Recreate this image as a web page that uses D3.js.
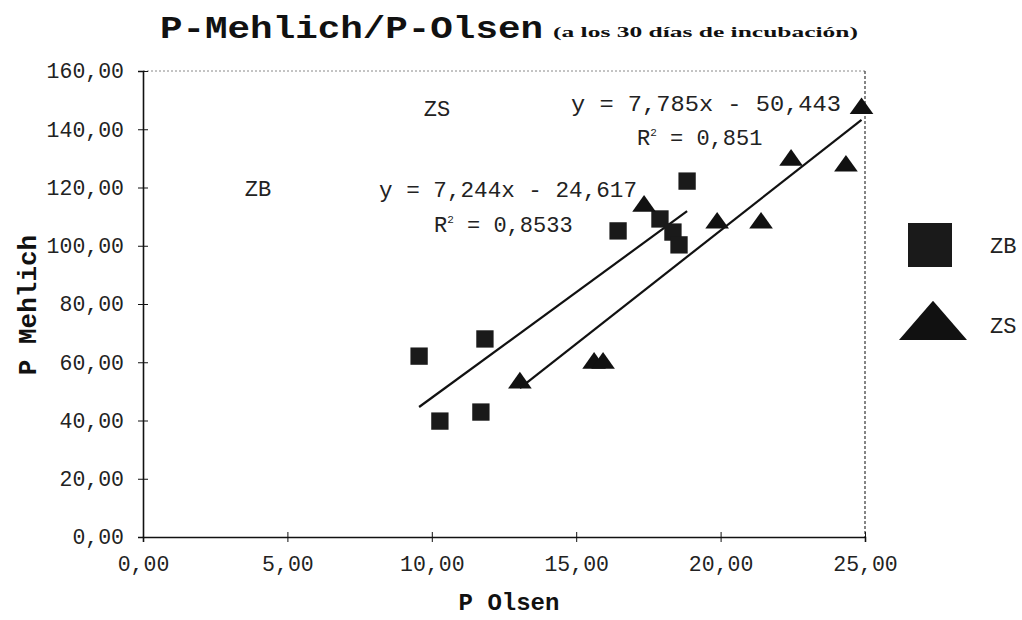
<!DOCTYPE html>
<html><head><meta charset="utf-8">
<script src="https://cdn.jsdelivr.net/npm/d3@7"></script>
<style>body{margin:0;background:#fff}svg{display:block}</style>
</head><body>
<script>
// ---- data ----
const zbX = [9.56, 10.28, 11.70, 11.84, 16.45, 17.90, 18.35, 18.56, 18.84];
const zbY = [62.1, 39.8, 42.9, 68.0, 105.1, 109.2, 104.7, 100.3, 122.2];
const zsX = [13.05, 15.62, 15.93, 17.35, 19.88, 21.40, 22.44, 24.34, 24.88];
const zsY = [52.9, 59.7, 59.7, 113.6, 107.8, 107.8, 129.4, 127.4, 147.1];
const seriesNames = ["ZB", "ZS"];
const slopes = [7.244, 7.785];
const intercepts = [-24.617, -50.443];
const eqLabels = ["y = 7,244x - 24,617", "y = 7,785x - 50,443"];
const r2Labels = ["0,8533", "0,851"];
const xTicks = [0, 5, 10, 15, 20, 25];
const yTicks = [0, 20, 40, 60, 80, 100, 120, 140, 160];
const titleText = "P-Mehlich/P-Olsen";
const subtitleText = "(a los 30 días de incubación)";
const xTitle = "P Olsen";
const yTitle = "P Mehlich";

const W = 1022, H = 620;
const mono = "'Liberation Mono','Courier New',monospace";
const svg = d3.select("body").append("svg").attr("width", W).attr("height", H);
svg.append("rect").attr("width", W).attr("height", H).attr("fill", "#fff");

const x = d3.scaleLinear().domain([0, 25]).range([143, 865]);
const y = d3.scaleLinear().domain([0, 160]).range([537, 71]);
const fmt = d => d.toFixed(2).replace(".", ",");

// plot frame (top & right dotted)
svg.append("line").attr("x1", x(0)).attr("x2", x(25)).attr("y1", y(160)).attr("y2", y(160))
  .attr("stroke", "#888").attr("stroke-width", 1).attr("stroke-dasharray", "2,2");
svg.append("line").attr("x1", x(25)).attr("x2", x(25)).attr("y1", y(160)).attr("y2", y(0))
  .attr("stroke", "#444").attr("stroke-width", 1.3).attr("stroke-dasharray", "3,2");

// axes
const gx = svg.append("g").attr("transform", `translate(0,${y(0)})`)
  .call(d3.axisBottom(x).tickValues(xTicks).tickFormat(fmt).tickSize(5).tickPadding(14));
const gy = svg.append("g").attr("transform", `translate(${x(0)},0)`)
  .call(d3.axisLeft(y).tickValues(yTicks).tickFormat(fmt).tickSize(5).tickPadding(14));
[gx, gy].forEach(g => {
  g.select(".domain").attr("stroke", "#111").attr("stroke-width", 1.6);
  g.selectAll("text").attr("font-family", mono).attr("font-size", 21.5).attr("fill", "#222");
});
gx.selectAll(".tick line").attr("y1", -5).attr("y2", 5).attr("stroke", "#111");
gy.selectAll(".tick line").attr("x1", -5).attr("x2", 5).attr("stroke", "#111");
gx.selectAll("text").attr("dy", "0.71em");

// trendlines
const xsList = [zbX, zsX];
xsList.forEach((xs, i) => {
  const x0 = d3.min(xs), x1 = d3.max(xs);
  svg.append("line")
    .attr("x1", x(x0)).attr("y1", y(slopes[i] * x0 + intercepts[i]))
    .attr("x2", x(x1)).attr("y2", y(slopes[i] * x1 + intercepts[i]))
    .attr("stroke", "#111").attr("stroke-width", 2.2);
});

// markers
const sq = d3.symbol().type(d3.symbolSquare).size(300)();
const tri = d3.symbol().type(d3.symbolTriangle).size(220)();
svg.append("g").selectAll("path").data(d3.zip(zbX, zbY)).join("path")
  .attr("d", sq).attr("fill", "#1a1a1a")
  .attr("transform", d => `translate(${x(d[0])},${y(d[1])})`);
svg.append("g").selectAll("path").data(d3.zip(zsX, zsY)).join("path")
  .attr("d", tri).attr("fill", "#111")
  .attr("transform", d => `translate(${x(d[0])},${y(d[1])}) scale(1.05,0.85)`);

// annotations
function txt(t, px, py, opts = {}) {
  const e = svg.append("text").attr("x", px).attr("y", py).text(t)
    .attr("font-family", opts.family || mono).attr("font-size", opts.size || 22)
    .attr("fill", opts.fill || "#222").attr("text-anchor", opts.anchor || "start");
  if (opts.weight) e.attr("font-weight", opts.weight);
  if (opts.len) e.attr("textLength", opts.len).attr("lengthAdjust", "spacingAndGlyphs");
  return e;
}
txt("ZS", 437, 116, { anchor: "middle" });
txt("ZB", 258, 196, { anchor: "middle" });
txt(eqLabels[0], 379, 197, { len: 258 });
const r1 = txt("R", 434, 232);
r1.append("tspan").attr("dy", -9).attr("font-size", 11).text("2");
r1.append("tspan").attr("dy", 9).text(" = " + r2Labels[0]);
txt(eqLabels[1], 571, 111, { len: 270 });
const r2 = txt("R", 637, 145);
r2.append("tspan").attr("dy", -9).attr("font-size", 11).text("2");
r2.append("tspan").attr("dy", 9).text(" = " + r2Labels[1]);

// titles
txt(titleText, 160, 38, { size: 31, weight: "bold", len: 383, fill: "#111" });
txt(subtitleText, 553, 37, { size: 15, weight: "bold", len: 305, fill: "#111",
  family: "'Liberation Serif','Times New Roman',serif" });
txt(xTitle, 509, 610, { size: 24, weight: "bold", anchor: "middle", fill: "#111" });
svg.append("text").attr("transform", "translate(36,305) rotate(-90)")
  .attr("text-anchor", "middle").attr("font-family", mono).attr("font-size", 26)
  .attr("font-weight", "bold").attr("fill", "#111").text(yTitle);

// legend
const lg = svg.append("g");
lg.append("path").attr("d", d3.symbol().type(d3.symbolSquare).size(44 * 44)())
  .attr("fill", "#1a1a1a").attr("transform", "translate(930,245)");
lg.append("path").attr("d", d3.symbol().type(d3.symbolTriangle).size(1100)())
  .attr("fill", "#111").attr("transform", "translate(933,327) scale(1.35,0.9)");
txt(seriesNames[0], 990, 253);
txt(seriesNames[1], 990, 333);
</script>
</body></html>
